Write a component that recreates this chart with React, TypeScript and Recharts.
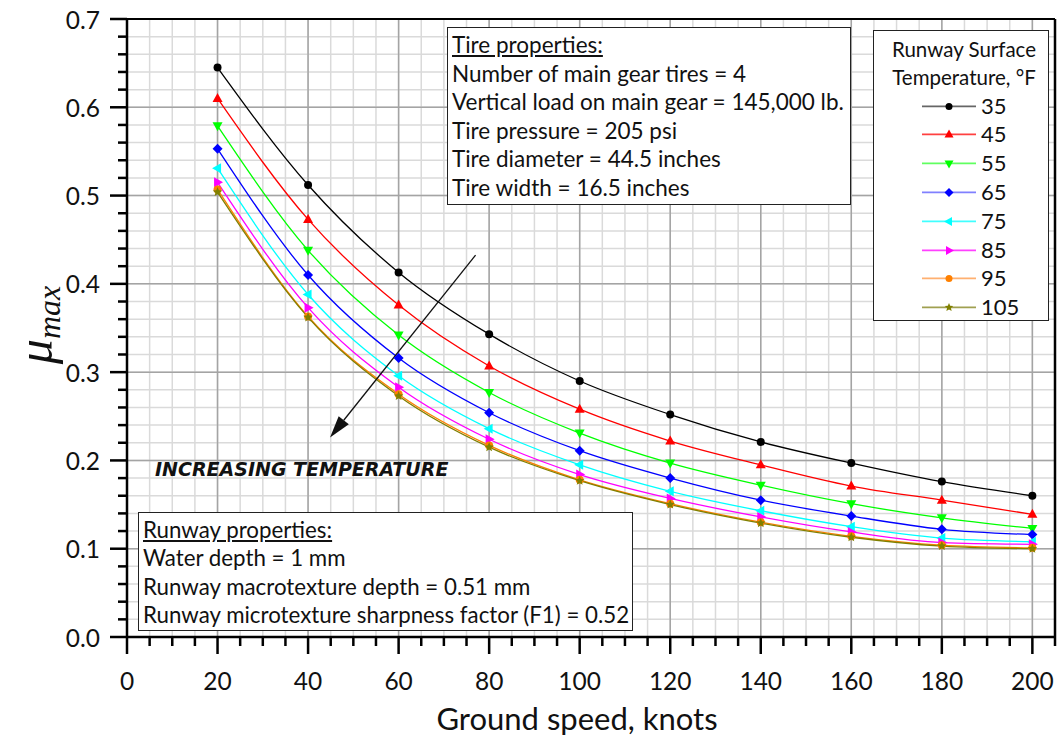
import React from "react";
import { LineChart, Line, XAxis, YAxis, CartesianGrid, ReferenceLine } from "recharts";

// ground speed, knots
const speeds = [20, 40, 60, 80, 100, 120, 140, 160, 180, 200];

// mu_max per runway surface temperature (°F)
const mu35 = [0.645, 0.512, 0.413, 0.343, 0.29, 0.252, 0.221, 0.197, 0.176, 0.16];
const mu45 = [0.61, 0.473, 0.376, 0.307, 0.258, 0.222, 0.195, 0.171, 0.155, 0.139];
const mu55 = [0.579, 0.438, 0.342, 0.277, 0.231, 0.197, 0.172, 0.151, 0.135, 0.123];
const mu65 = [0.553, 0.41, 0.316, 0.254, 0.211, 0.18, 0.155, 0.137, 0.122, 0.116];
const mu75 = [0.531, 0.388, 0.296, 0.236, 0.195, 0.165, 0.143, 0.125, 0.112, 0.108];
const mu85 = [0.515, 0.373, 0.283, 0.224, 0.184, 0.157, 0.136, 0.119, 0.107, 0.105];
const mu95 = [0.507, 0.363, 0.275, 0.217, 0.178, 0.151, 0.13, 0.114, 0.104, 0.101];
const mu105 = [0.504, 0.362, 0.273, 0.215, 0.177, 0.15, 0.129, 0.113, 0.103, 0.1];

const temps = ["35", "45", "55", "65", "75", "85", "95", "105"];
const values = [mu35, mu45, mu55, mu65, mu75, mu85, mu95, mu105];

const xLabelTicks = [0, 20, 40, 60, 80, 100, 120, 140, 160, 180, 200];
const yLabelTicks = [0, 0.1, 0.2, 0.3, 0.4, 0.5, 0.6, 0.7];
const xMinorTicks = Array.from({ length: 42 }, (_, i) => i * 5);
const yMinorTicks = Array.from({ length: 36 }, (_, i) => (i * 2) / 100);

const tireLines = [
  "Number of main gear tires = 4",
  "Vertical load on main gear = 145,000 lb.",
  "Tire pressure = 205 psi",
  "Tire diameter = 44.5 inches",
  "Tire width = 16.5 inches",
];
const runwayLines = [
  "Water depth = 1 mm",
  "Runway macrotexture depth = 0.51 mm",
  "Runway microtexture sharpness factor (F1) = 0.52",
];

const colors = ["#000000", "#ff0000", "#00ff00", "#0000ff", "#00ffff", "#ff00ff", "#ff8000", "#808000"];
const legendColors = ["#666666", "#ff4040", "#60ff60", "#8080ff", "#40ffff", "#ff40ff", "#ffb070", "#a0a050"];
const shapes = ["circle", "up", "down", "diamond", "left", "right", "circle", "star"];

const FONT = "Lato, 'Noto Sans', sans-serif";

const data = speeds.map((s, i) => {
  const row: any = { speed: s };
  temps.forEach((t, k) => (row["t" + t] = values[k][i]));
  return row;
});

function Marker({ cx, cy, shape, color, r = 4.5 }: any) {
  if (cx == null || cy == null) return null;
  switch (shape) {
    case "circle":
      return <circle cx={cx} cy={cy} r={r - 0.5} fill={color} />;
    case "up":
      return <polygon points={`${cx},${cy - r - 1} ${cx - r - 0.5},${cy + r - 1} ${cx + r + 0.5},${cy + r - 1}`} fill={color} />;
    case "down":
      return <polygon points={`${cx},${cy + r + 1} ${cx - r - 0.5},${cy - r + 1} ${cx + r + 0.5},${cy - r + 1}`} fill={color} />;
    case "diamond":
      return <polygon points={`${cx},${cy - r - 0.5} ${cx + r + 0.5},${cy} ${cx},${cy + r + 0.5} ${cx - r - 0.5},${cy}`} fill={color} />;
    case "left":
      return <polygon points={`${cx - r - 1},${cy} ${cx + r - 1},${cy - r - 0.5} ${cx + r - 1},${cy + r + 0.5}`} fill={color} />;
    case "right":
      return <polygon points={`${cx + r + 1},${cy} ${cx - r + 1},${cy - r - 0.5} ${cx - r + 1},${cy + r + 0.5}`} fill={color} />;
    case "star": {
      const pts: string[] = [];
      for (let k = 0; k < 10; k++) {
        const rr = k % 2 === 0 ? r + 0.5 : (r + 0.5) * 0.45;
        const a = -Math.PI / 2 + (k * Math.PI) / 5;
        pts.push(`${cx + rr * Math.cos(a)},${cy + rr * Math.sin(a)}`);
      }
      return <polygon points={pts.join(" ")} fill={color} />;
    }
    default:
      return null;
  }
}

const XTick = (props: any) => {
  const { x, y, payload } = props;
  const v = payload.value;
  const major = v % 20 === 0;
  return (
    <g>
      <line x1={x} x2={x} y1={y} y2={y + (major ? 17 : 9)} stroke="#000" strokeWidth={2.5} />
      {major && (
        <text x={x} y={y + 43} textAnchor="middle" dominantBaseline="central" fontSize={24.5} fill="#111" fontFamily={FONT}>
          {v}
        </text>
      )}
    </g>
  );
};

const YTick = (props: any) => {
  const { x, y, payload } = props;
  const v = payload.value;
  const major = Math.abs(v * 10 - Math.round(v * 10)) < 1e-6;
  return (
    <g>
      <line x1={x} x2={x - (major ? 17 : 9)} y1={y} y2={y} stroke="#000" strokeWidth={2.5} />
      {major && (
        <text x={x - 27} y={y} textAnchor="end" dominantBaseline="central" fontSize={24.5} fill="#111" fontFamily={FONT}>
          {v.toFixed(1)}
        </text>
      )}
    </g>
  );
};

const Arrow = (p: any) => {
  const { x1, y1, x2, y2 } = p;
  const dx = x2 - x1;
  const dy = y2 - y1;
  const len = Math.hypot(dx, dy) || 1;
  const ux = dx / len;
  const uy = dy / len;
  const hl = 22;
  const hw = 6.5;
  const bx = x2 - ux * hl;
  const by = y2 - uy * hl;
  return (
    <g>
      <line x1={x1} y1={y1} x2={bx} y2={by} stroke="#111" strokeWidth={1.3} />
      <polygon points={`${x2},${y2} ${bx - uy * hw},${by + ux * hw} ${bx + uy * hw},${by - ux * hw}`} fill="#111" />
    </g>
  );
};

const boxStyle: React.CSSProperties = {
  position: "absolute",
  background: "#fff",
  border: "1.5px solid #222",
  boxSizing: "border-box",
  fontFamily: FONT,
  color: "#111",
  whiteSpace: "nowrap",
};

export default function App() {
  return (
    <div style={{ position: "absolute", left: 0, top: 0, width: 1060, height: 740, background: "#fff", fontFamily: FONT }}>
      <LineChart width={1060} height={740} data={data} margin={{ top: 19, right: 5, bottom: 0, left: 0 }}>
        <CartesianGrid stroke="#dadada" strokeWidth={1.5} verticalValues={xMinorTicks} horizontalValues={yMinorTicks} />
        <CartesianGrid stroke="#a4a4a4" strokeWidth={1.5} verticalValues={xLabelTicks} horizontalValues={yLabelTicks} />
        <XAxis
          dataKey="speed"
          type="number"
          domain={[0, 205]}
          ticks={xMinorTicks}
          interval={0}
          height={103}
          tickSize={0}
          tickMargin={0}
          tickLine={false}
          tick={<XTick />}
          axisLine={{ stroke: "#000", strokeWidth: 2.5 }}
          allowDataOverflow
        />
        <YAxis
          type="number"
          domain={[0, 0.7]}
          ticks={yMinorTicks}
          interval={0}
          width={127}
          tickSize={0}
          tickMargin={0}
          tickLine={false}
          tick={<YTick />}
          axisLine={{ stroke: "#000", strokeWidth: 2.5 }}
          allowDataOverflow
        />
        <ReferenceLine y={0.7} stroke="#000" strokeWidth={2} />
        <ReferenceLine x={205} stroke="#000" strokeWidth={2.5} />
        {temps.map((t, k) => (
          <Line
            key={t}
            type="monotone"
            dataKey={"t" + t}
            name={t}
            stroke={colors[k]}
            strokeWidth={1.3}
            isAnimationActive={false}
            dot={(p: any) => <Marker key={`d-${t}-${p.index}`} cx={p.cx} cy={p.cy} shape={shapes[k]} color={colors[k]} />}
            activeDot={false}
          />
        ))}
        <ReferenceLine segment={[{ x: 77, y: 0.4326 }, { x: 44.85, y: 0.226 }]} shape={Arrow} />
      </LineChart>

      {/* y axis title */}
      <div
        style={{
          position: "absolute",
          left: 37,
          top: 325,
          transform: "translate(-50%, -50%) rotate(-90deg)",
          whiteSpace: "nowrap",
          fontFamily: "'Liberation Serif', serif",
          fontStyle: "italic",
          color: "#111",
          lineHeight: 1,
        }}
      >
        <span style={{ fontSize: 50 }}>μ</span>
        <span style={{ fontSize: 32, verticalAlign: -8 }}>max</span>
      </div>

      {/* x axis title */}
      <div style={{ position: "absolute", left: 577, top: 718, transform: "translate(-50%, -50%)", fontSize: 31, color: "#111", whiteSpace: "nowrap" }}>
        Ground speed, knots
      </div>

      <div
        style={{
          position: "absolute",
          left: 155,
          top: 457,
          fontSize: 19,
          fontWeight: 700,
          fontStyle: "italic",
          fontFamily: "'DejaVu Sans', sans-serif",
          lineHeight: "24px",
          color: "#111",
          whiteSpace: "nowrap",
        }}
      >
        INCREASING TEMPERATURE
      </div>

      <div style={{ ...boxStyle, left: 447, top: 27, width: 404, height: 178, padding: "3px 0 0 4px", fontSize: 22.5, lineHeight: "28.6px" }}>
        <div style={{ textDecoration: "underline" }}>Tire properties:</div>
        {tireLines.map((l) => (
          <div key={l}>{l}</div>
        ))}
      </div>

      <div style={{ ...boxStyle, left: 138, top: 512, width: 495, height: 119, padding: "3px 0 0 4px", fontSize: 22.3, lineHeight: "28.3px" }}>
        <div style={{ textDecoration: "underline" }}>Runway properties:</div>
        {runwayLines.map((l) => (
          <div key={l}>{l}</div>
        ))}
      </div>

      <div style={{ ...boxStyle, left: 873, top: 30, width: 176, height: 291 }}>
        <div style={{ position: "absolute", left: 0, width: 176, top: 4, textAlign: "center", paddingLeft: 4, boxSizing: "border-box", fontSize: 20.5, lineHeight: "28.4px" }}>
          <div>Runway Surface</div>
          <div>Temperature, °F</div>
        </div>
        {temps.map((t, k) => (
          <div key={t} style={{ position: "absolute", left: 0, top: 60.5 + k * 28.8, height: 28.8, width: 176 }}>
            <svg width={60} height={28.8} style={{ position: "absolute", left: 46, top: 0 }}>
              <line x1={2} x2={56} y1={14.4} y2={14.4} stroke={legendColors[k]} strokeWidth={1.8} />
              <Marker cx={29} cy={14.4} shape={shapes[k]} color={colors[k]} r={4} />
            </svg>
            <div style={{ position: "absolute", left: 107, top: 0, fontSize: 22, lineHeight: "28.8px" }}>{t}</div>
          </div>
        ))}
      </div>
    </div>
  );
}
